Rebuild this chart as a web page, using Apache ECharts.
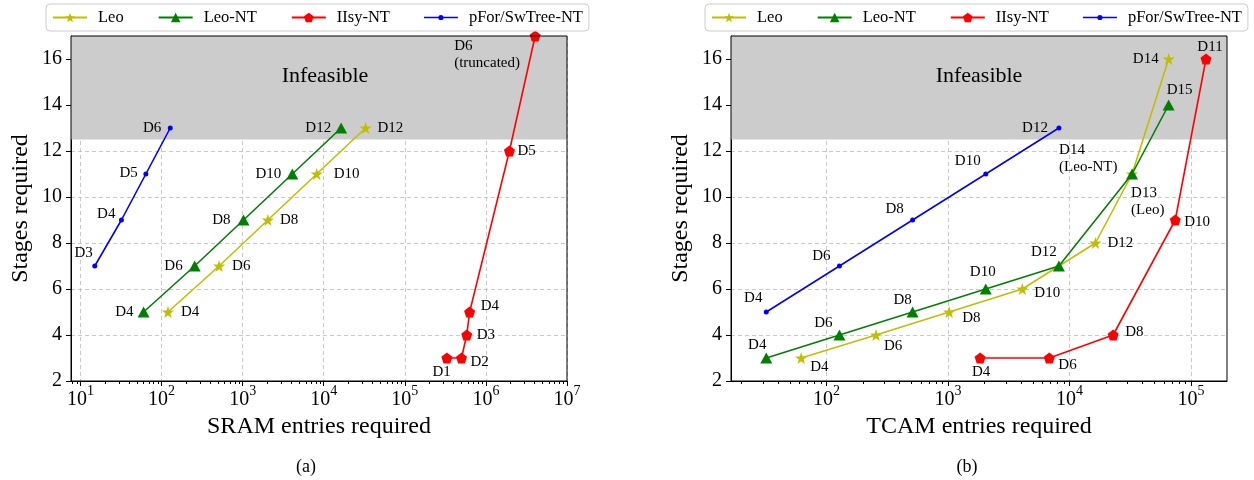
<!DOCTYPE html>
<html><head><meta charset="utf-8">
<script src="https://cdn.jsdelivr.net/npm/echarts@6/dist/echarts.min.js"></script>
<style>html,body{margin:0;padding:0;background:#fff}#c{width:1254px;height:480px}</style>
</head><body><div id="c"></div>
<script>
// ---------- data (a) SRAM ----------
const sramLeoX   = [120, 512, 2048, 8192, 32768];
const sramLeoY   = [5, 7, 9, 11, 13];
const sramLeoN   = ['D4', 'D6', 'D8', 'D10', 'D12'];
const sramLeoNtX = [60, 256, 1024, 4096, 16384];
const sramLeoNtY = [5, 7, 9, 11, 13];
const sramLeoNtN = ['D4', 'D6', 'D8', 'D10', 'D12'];
const sramIisyX  = [330000, 500000, 580000, 630000, 1950000, 4050000];
const sramIisyY  = [3, 3, 4, 5, 12, 17];
const sramIisyN  = ['D1', 'D2', 'D3', 'D4', 'D5', 'D6\n(truncated)'];
const sramPforX  = [15, 32, 64, 128];
const sramPforY  = [7, 9, 11, 13];
const sramPforN  = ['D3', 'D4', 'D5', 'D6'];
// ---------- data (b) TCAM ----------
const tcamLeoX   = [62, 256, 1024, 4096, 16384, 32768, 65536];
const tcamLeoY   = [3, 4, 5, 6, 8, 11, 16];
const tcamLeoN   = ['D4', 'D6', 'D8', 'D10', 'D12', 'D13\n(Leo)', 'D14'];
const tcamLeoNtX = [32, 128, 512, 2048, 8192, 32768, 65536];
const tcamLeoNtY = [3, 4, 5, 6, 7, 11, 14];
const tcamLeoNtN = ['D4', 'D6', 'D8', 'D10', 'D12', 'D14\n(Leo-NT)', 'D15'];
const tcamIisyX  = [1840, 6830, 22900, 74300, 133000];
const tcamIisyY  = [3, 3, 4, 9, 16];
const tcamIisyN  = ['D4', 'D6', 'D8', 'D10', 'D11'];
const tcamPforX  = [32, 128, 512, 2048, 8192];
const tcamPforY  = [5, 7, 9, 11, 13];
const tcamPforN  = ['D4', 'D6', 'D8', 'D10', 'D12'];
// ---------- ticks ----------
const yTicks      = [2, 4, 6, 8, 10, 12, 14, 16];
const xTicksSram  = [10, 100, 1000, 10000, 100000, 1000000, 10000000];
const xTicksTcam  = [100, 1000, 10000, 100000];
const seriesNames = ['Leo', 'Leo-NT', 'IIsy-NT', 'pFor/SwTree-NT'];
const infeasibleFrom = 12.5;

// ---------- label placement (layout only): [dx, dy, align] ----------
const P = {
  sramLeo:   [[13,0,'left'],[13,0,'left'],[12,0,'left'],[17,0,'left'],[12,0,'left']],
  sramLeoNt: [[-10,0,'right'],[-12,0,'right'],[-13,0,'right'],[-11,0,'right'],[-10,0,'right']],
  sramIisy:  [[4,14,'right'],[9,4,'left'],[10,0,'left'],[11,-6,'left'],[8,0,'left'],[-81,19,'left']],
  sramPfor:  [[-2,-13,'right'],[-6,-6,'right'],[-8,-1,'right'],[-9,0,'right']],
  tcamLeo:   [[9,9,'left'],[8,11,'left'],[13,6,'left'],[12,4,'left'],[12,0,'left'],[-1,28,'left'],[-10,0,'right']],
  tcamLeoNt: [[-9,-13,'center'],[-16,-12,'center'],[-10,-12,'center'],[-3,-17,'center'],[-15,-14,'center'],[-73,-15,'left'],[-2,-15,'left']],
  tcamIisy:  [[1,14,'center'],[9,7,'left'],[12,-3,'left'],[9,2,'left'],[4,-12,'center']],
  tcamPfor:  [[-13,-14,'center'],[-18,-10,'center'],[-18,-11,'center'],[-18,-13,'center'],[-11,0,'right']]
};

const FONT = 'Liberation Serif';
const STAR = 'path://M0,-10L2.35,-3.24L9.51,-3.09L3.8,1.24L5.88,8.09L0,4L-5.88,8.09L-3.8,1.24L-9.51,-3.09L-2.35,-3.24Z';
const PENT = 'path://M0,-10L9.51,-3.09L5.88,8.09L-5.88,8.09L-9.51,-3.09Z';
const DOT_LEGEND = 'path://M0,5.2H34V6.8H0Z M19.6,6A2.6,2.6 0 1 1 14.4,6A2.6,2.6 0 1 1 19.6,6Z';
const STY = {
  'Leo':            {color:'#bfbf00', symbol:STAR, size:12},
  'Leo-NT':         {color:'#008000', symbol:'triangle', size:[12,11]},
  'IIsy-NT':        {color:'#ff0000', symbol:PENT, size:11},
  'pFor/SwTree-NT': {color:'#0000ff', symbol:'circle', size:5}
};

function mk(name, xs, ys, ns, place, gi) {
  const s = STY[name];
  return {
    type:'line', name, xAxisIndex:gi, yAxisIndex:gi,
    symbol:s.symbol, symbolSize:s.size, showAllSymbol:true,
    lineStyle:{color:s.color, width:1.6}, itemStyle:{color:s.color},
    animation:false, z:2,
    data: xs.map((x,i)=>({
      value:[x, ys[i]],
      label:{show:true, formatter:ns[i], position:'inside',
             align:place[i][2], verticalAlign:'middle', offset:[place[i][0], place[i][1]],
             color:'#000', fontFamily:FONT, fontSize:15, lineHeight:17}
    }))
  };
}

function xAxisFor(gi, min, max, ticks, name) {
  return {
    type:'log', gridIndex:gi, min, max, logBase:10,
    name, nameLocation:'middle', nameGap:32,
    nameTextStyle:{fontFamily:FONT, fontSize:24, color:'#000'},
    axisLine:{show:true, lineStyle:{color:'#000', width:1}},
    axisTick:{show:true, inside:false, length:5, customValues:ticks, lineStyle:{color:'#000'}},
    minorTick:{show:true, splitNumber:9, length:3, lineStyle:{color:'#000'}},
    axisLabel:{customValues:ticks, margin:3, color:'#000',
      formatter:v=>{const l=Math.round(Math.log10(v)); return '{b|10}{s|'+l+'}';},
      rich:{b:{fontFamily:FONT, fontSize:20, color:'#000', padding:[6,0,0,0]},
            s:{fontFamily:FONT, fontSize:14, color:'#000', verticalAlign:'top'}}},
    splitLine:{show:true, lineStyle:{color:'#bbbbbb', type:[4,3], width:0.8}}
  };
}
function yAxisFor(gi) {
  return {
    type:'value', gridIndex:gi, min:2, max:17,
    name:'Stages required', nameLocation:'middle', nameGap:38,
    nameTextStyle:{fontFamily:FONT, fontSize:24, color:'#000'},
    axisLine:{show:true, lineStyle:{color:'#000', width:1}},
    axisTick:{show:true, length:5, customValues:yTicks, lineStyle:{color:'#000'}},
    axisLabel:{customValues:yTicks, margin:9, fontFamily:FONT, fontSize:20, color:'#000'},
    splitLine:{show:true, lineStyle:{color:'#bbbbbb', type:[4,3], width:0.8}}
  };
}
function legendAt(left) {
  return {
    left, top:4, orient:'horizontal',
    data:seriesNames.map(n => n === 'pFor/SwTree-NT' ? {name:n, icon:DOT_LEGEND} : {name:n}),
    itemWidth:34, itemHeight:12, itemGap:34, padding:[5,6,5,6],
    backgroundColor:'#fff', borderColor:'#cccccc', borderWidth:1, borderRadius:4,
    textStyle:{fontFamily:FONT, fontSize:16.5, color:'#000', padding:[0,0,0,6]}
  };
}
function shade(series, dx) {
  series.markArea = {
    silent:true, z:1,
    itemStyle:{color:'#cccccc', opacity:1},
    label:{show:true, position:'inside', formatter:'Infeasible', offset:[dx,-12],
           fontFamily:FONT, fontSize:22, color:'#000'},
    data:[[{yAxis:infeasibleFrom},{yAxis:17}]]
  };
  return series;
}

const series = [
  shade(mk('Leo', sramLeoX, sramLeoY, sramLeoN, P.sramLeo, 0), 6),
  mk('Leo-NT', sramLeoNtX, sramLeoNtY, sramLeoNtN, P.sramLeoNt, 0),
  mk('IIsy-NT', sramIisyX, sramIisyY, sramIisyN, P.sramIisy, 0),
  mk('pFor/SwTree-NT', sramPforX, sramPforY, sramPforN, P.sramPfor, 0),
  shade(mk('Leo', tcamLeoX, tcamLeoY, tcamLeoN, P.tcamLeo, 1), 0),
  mk('Leo-NT', tcamLeoNtX, tcamLeoNtY, tcamLeoNtN, P.tcamLeoNt, 1),
  mk('IIsy-NT', tcamIisyX, tcamIisyY, tcamIisyN, P.tcamIisy, 1),
  mk('pFor/SwTree-NT', tcamPforX, tcamPforY, tcamPforN, P.tcamPfor, 1)
];

const chart = echarts.init(document.getElementById('c'), null, {renderer:'canvas'});
chart.setOption({
  animation:false,
  textStyle:{fontFamily:FONT},
  grid:[
    {left:71, top:36, width:496, height:345, show:true, borderColor:'#000', borderWidth:1, backgroundColor:'transparent', z:3},
    {left:731, top:36, width:496, height:345, show:true, borderColor:'#000', borderWidth:1, backgroundColor:'transparent', z:3}
  ],
  xAxis:[xAxisFor(0, 7.64, 1e7, xTicksSram, 'SRAM entries required'),
         xAxisFor(1, 16.4, 1.98e5, xTicksTcam, 'TCAM entries required')],
  yAxis:[yAxisFor(0), yAxisFor(1)],
  legend:[legendAt(46), legendAt(705)],
  graphic:[
    {type:'text', x:306, y:467, style:{text:'(a)', font:'18px "Liberation Serif"', fill:'#000', align:'center', verticalAlign:'middle'}},
    {type:'text', x:967, y:467, style:{text:'(b)', font:'18px "Liberation Serif"', fill:'#000', align:'center', verticalAlign:'middle'}}
  ],
  series
});
</script></body></html>
